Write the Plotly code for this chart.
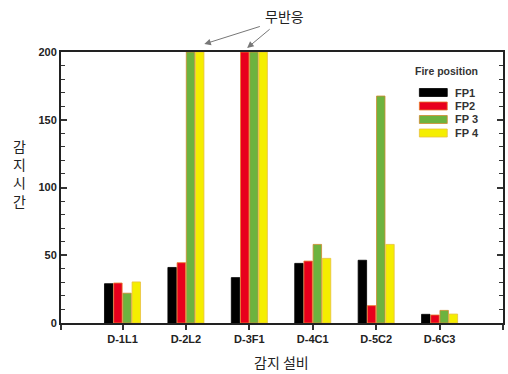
import plotly.graph_objects as go

categories = ["D-1L1", "D-2L2", "D-3F1", "D-4C1", "D-5C2", "D-6C3"]
series_names = ["FP1", "FP2", "FP 3", "FP 4"]
fp1 = [29, 41, 33.5, 44, 46.3, 6.4]
fp2 = [29.5, 44.5, 200, 45.7, 12.8, 5.9]
fp3 = [22, 200, 200, 58, 167.5, 9.3]
fp4 = [30.3, 200, 200, 47.7, 58, 6.6]
y_ticks = [0, 50, 100, 150, 200]

colors = ["#000000", "#e8001c", "#6db33f", "#f5ee00"]
edges = ["#000000", "#e87a2a", "#d08a30", "#e8c040"]

W, H = 508, 374
ML, MR, MT, MB = 61, 3, 52, 51
PW, PH = W - ML - MR, H - MT - MB


def px(x):
    return (x - ML) / PW


def py(y):
    return (H - MB - y) / PH


x_pos = list(range(1, len(categories) + 1))

fig = go.Figure()
for name, vals, c, e in zip(series_names, [fp1, fp2, fp3, fp4], colors, edges):
    fig.add_trace(go.Bar(x=x_pos, y=vals, name=name, showlegend=False,
                         marker=dict(color=c, line=dict(color=e, width=0.8))))

axis_font = dict(family="Liberation Sans, Arial", size=11, color="#222")
fig.update_layout(
    width=W, height=H,
    margin=dict(l=ML, r=MR, t=MT, b=MB),
    paper_bgcolor="white", plot_bgcolor="white",
    barmode="group", bargap=0.42, bargroupgap=0.08,
    xaxis=dict(range=[0.03, 7], tickmode="array", tickvals=[0.03] + x_pos + [7],
               ticktext=[""] + ["<b>%s</b>" % c for c in categories] + [""],
               ticks="outside", ticklen=5, tickwidth=1.5, tickcolor="#333",
               showline=True, linecolor="#222", linewidth=2, mirror=True,
               showgrid=False, zeroline=False, tickfont=axis_font),
    yaxis=dict(range=[0, 200], tickmode="array", tickvals=y_ticks,
               ticktext=["<b>%d</b>" % v for v in y_ticks],
               ticks="inside", ticklen=6, tickwidth=1.5, tickcolor="#333",
               minor=dict(dtick=10, ticks="inside", ticklen=4, tickwidth=1, tickcolor="#333", showgrid=False),
               showline=True, linecolor="#222", linewidth=2, mirror="allticks",
               showgrid=False, zeroline=False, tickfont=axis_font),
)

# custom legend (wide swatches like the reference)
leg_font = dict(family="Liberation Sans, Arial", size=11, color="#333")
fig.add_annotation(text="<b>Fire position</b>", xref="paper", yref="paper",
                   x=px(415), y=py(71), xanchor="left", yanchor="middle", showarrow=False,
                   font=dict(family="Liberation Sans, Arial", size=10.5, color="#333"))
for i, (name, c, e) in enumerate(zip(series_names, colors, edges)):
    yc = 92.5 + i * 13.5
    fig.add_shape(type="rect", xref="paper", yref="paper",
                  x0=px(421), x1=px(449), y0=py(yc - 4), y1=py(yc + 4),
                  fillcolor=c, line=dict(color=e, width=0.8))
    fig.add_annotation(text="<b>%s</b>" % name, xref="paper", yref="paper",
                       x=px(455), y=py(yc), xanchor="left", yanchor="middle", showarrow=False,
                       font=leg_font)

cjk = "Noto Sans CJK KR"
fig.add_annotation(text="감<br>지<br>시<br>간", xref="paper", yref="paper",
                   x=px(19), y=py(173), xanchor="center", yanchor="middle", showarrow=False,
                   font=dict(family=cjk, size=14, color="#222"))
fig.add_annotation(text="감지 설비", xref="paper", yref="paper",
                   x=px(282), y=py(362), xanchor="center", yanchor="middle", showarrow=False,
                   font=dict(family=cjk, size=14, color="#222"))
fig.add_annotation(text="무반응", xref="paper", yref="paper",
                   x=px(286), y=py(16), xanchor="center", yanchor="middle", showarrow=False,
                   font=dict(family=cjk, size=14, color="#222"))
# arrows pointing to the capped bars
fig.add_annotation(x=px(205), y=py(44), xref="paper", yref="paper", ax=57, ay=-18,
                   text="", showarrow=True, arrowhead=2, arrowsize=1.3, arrowwidth=1, arrowcolor="#777")
fig.add_annotation(x=px(248), y=py(48), xref="paper", yref="paper", ax=24, ay=-20,
                   text="", showarrow=True, arrowhead=2, arrowsize=1.3, arrowwidth=1, arrowcolor="#777")

fig.write_html("out.html")
